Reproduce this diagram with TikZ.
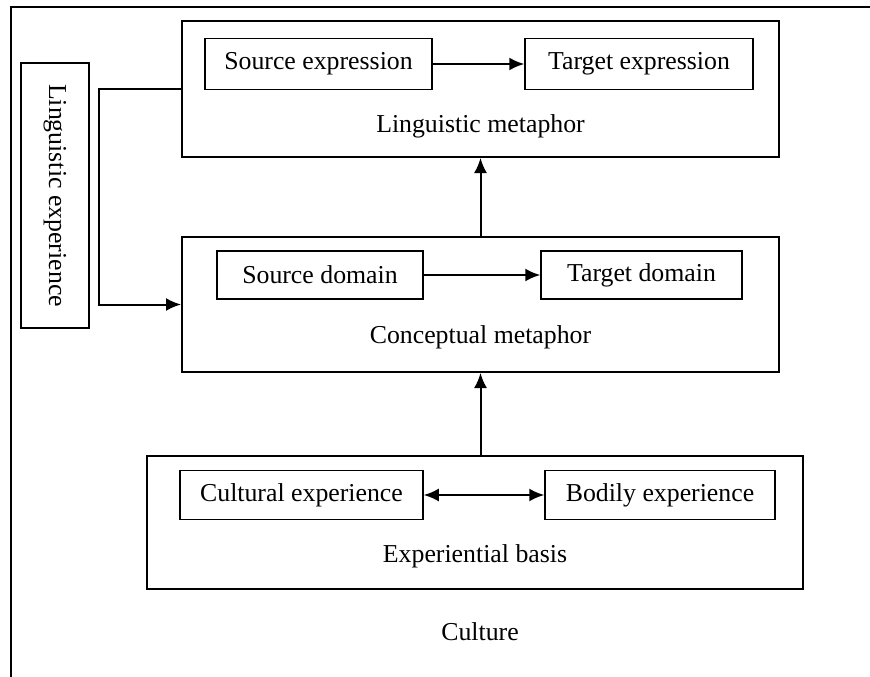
\documentclass[tikz,border=0pt]{standalone}
\usepackage{fontspec}
\setmainfont{Liberation Serif}
\usetikzlibrary{arrows.meta}

\begin{document}
\begin{tikzpicture}[
		x=1pt, y=-1pt,
		font=\fontsize{25.8}{30}\selectfont,
		outerbox/.style={draw, line width=2pt, inner sep=0pt},
		innerbox/.style={draw, line width=1.5pt, inner sep=0pt, align=center},
		arrow/.style={-{Latex[length=15pt, width=13pt]}, line width=2pt},
		twoway/.style={{Latex[length=15pt, width=13pt]}-{Latex[length=15pt, width=13pt]}, line width=2pt}
	]
		\useasboundingbox (0,0) rectangle (870,677);
		% frame of the culture
		\draw[line width=2.2pt] (11,677) -- (11,7) -- (870,7);
		\node[anchor=base] (culture) at (480,640) {Culture};

		% three levels
		\node[outerbox, minimum width=597pt, minimum height=136pt] (lingmeta) at (480.5,89) {};
		\node[outerbox, minimum width=597pt, minimum height=135pt] (concmeta) at (480.5,304.5) {};
		\node[outerbox, minimum width=656pt, minimum height=133pt] (expbasis) at (475,522.5) {};
		\node[anchor=base] (lingmetatext) at (480.5,132) {Linguistic metaphor};
		\node[anchor=base] (concmetatext) at (480.5,343) {Conceptual metaphor};
		\node[anchor=base] (expbasistext) at (475,562) {Experiential basis};

		\node[innerbox, minimum width=227pt, minimum height=51pt] (srcexpr) at (318.5,64) {Source expression};
		\node[innerbox, minimum width=228pt, minimum height=51pt] (tgtexpr) at (639,64) {Target expression};
		\node[innerbox, minimum width=206pt, minimum height=48pt] (srcdom) at (320,275) {Source domain};
		\node[innerbox, minimum width=201pt, minimum height=48pt] (tgtdom) at (641.5,275) {Target domain};
		\node[innerbox, minimum width=243pt, minimum height=49pt] (cultexp) at (301.5,495) {Cultural experience};
		\node[innerbox, minimum width=230pt, minimum height=49pt] (bodexp) at (660,495) {Bodily experience};

		\node[innerbox, rotate=-90, minimum width=265pt, minimum height=68pt] (lingexp) at (55,195.5) {Linguistic experience};

		\draw[arrow] (srcexpr) -- (tgtexpr);
		\draw[arrow] (srcdom) -- (tgtdom);
		\draw[twoway] (cultexp) -- (bodexp);
		\draw[arrow] (concmeta.south |- expbasis.north) -- (concmeta.south);
		\draw[arrow] (concmeta.north) -- (lingmeta.south);
		\draw[arrow] (lingmeta.west) -- ++(-82,0) |- (concmeta.west);
	\end{tikzpicture}
\end{document}
